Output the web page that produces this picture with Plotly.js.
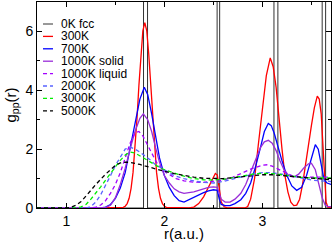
<!DOCTYPE html>
<html>
<head>
<meta charset="utf-8">
<script src="https://cdn.plot.ly/plotly-3.0.1.min.js"></script>
<style>html,body{margin:0;padding:0;background:#fff;}#chart{width:333px;height:242px;}</style>
</head>
<body>
<div id="chart"></div>
<script>
// ---- data ----
var seriesNames = ["0K fcc","300K","700K","1000K solid","1000K liquid","2000K","3000K","5000K"];

var fccR = [0.7,1.787,1.787,1.828,1.828,2.538,2.538,2.564,2.564,3.118,3.118,3.158,3.158,3.61,3.61,3.645,3.645,3.7];
var fccG = [0,0,60,60,0,0,60,60,0,0,60,60,0,0,60,60,0,0];

var r300 = [0.7,1.56,1.58,1.60,1.62,1.64,1.66,1.68,1.70,1.72,1.74,1.76,1.78,1.80,1.82,1.84,1.86,1.88,1.90,1.92,1.94,1.96,1.98,2.00,2.02,2.25,2.30,2.35,2.40,2.45,2.49,2.52,2.54,2.56,2.58,2.61,2.65,2.82,2.85,2.88,2.92,2.96,3.00,3.04,3.08,3.11,3.14,3.17,3.20,3.23,3.26,3.29,3.32,3.35,3.38,3.41,3.44,3.47,3.50,3.53,3.56,3.58,3.60,3.62,3.635,3.65,3.67,3.7];
var g300 = [0,0.01,0.02,0.06,0.15,0.33,0.67,1.21,2.0,3.02,4.17,5.24,6.02,6.3,6.02,5.24,4.17,3.02,2.0,1.21,0.67,0.33,0.15,0.06,0.02,0,0.03,0.15,0.38,0.72,1.0,1.17,1.12,0.6,0.2,0.04,0,0,0.05,0.3,1.0,2.2,3.4,4.5,5.1,4.8,4.1,3.0,2.0,1.1,0.55,0.2,0.08,0.1,0.3,0.8,1.5,2.2,2.8,3.4,3.8,3.7,3.2,2.0,1.0,0.2,0.02,0];

var r700 = [0.7,1.35,1.40,1.45,1.50,1.55,1.60,1.65,1.70,1.75,1.795,1.83,1.87,1.91,1.95,2.00,2.05,2.10,2.15,2.20,2.25,2.30,2.35,2.40,2.45,2.50,2.54,2.56,2.58,2.62,2.67,2.72,2.78,2.83,2.88,2.93,2.98,3.02,3.06,3.09,3.12,3.16,3.20,3.25,3.30,3.35,3.40,3.45,3.50,3.54,3.57,3.60,3.63,3.66,3.70];
var g700 = [0,0,0.03,0.12,0.33,0.68,1.2,2.0,2.9,3.7,4.1,3.85,3.2,2.4,1.7,1.1,0.7,0.42,0.25,0.2,0.28,0.36,0.45,0.52,0.58,0.62,0.6,0.3,0.12,0.08,0.08,0.15,0.28,0.5,0.85,1.4,2.05,2.6,2.87,2.8,2.55,2.05,1.6,1.1,0.75,0.6,0.7,1.1,1.7,2.15,2.0,1.4,0.95,0.85,0.8];

var r1000s = [0.7,1.40,1.45,1.50,1.55,1.60,1.65,1.70,1.75,1.785,1.83,1.87,1.91,1.95,2.00,2.05,2.10,2.15,2.20,2.25,2.30,2.35,2.40,2.45,2.50,2.54,2.56,2.58,2.62,2.67,2.72,2.78,2.83,2.88,2.93,2.98,3.02,3.06,3.10,3.14,3.18,3.22,3.27,3.32,3.37,3.42,3.47,3.50,3.54,3.58,3.61,3.64,3.67,3.70];
var g1000s = [0,0.02,0.09,0.35,0.8,1.35,2.0,2.6,3.05,3.2,3.0,2.6,2.05,1.55,1.1,0.85,0.65,0.55,0.5,0.52,0.55,0.6,0.65,0.7,0.72,0.7,0.5,0.3,0.2,0.2,0.3,0.5,0.8,1.2,1.65,2.05,2.25,2.3,2.2,1.95,1.6,1.3,1.1,1.05,1.15,1.35,1.5,1.52,1.3,0.8,0.35,0.1,0.05,0.05];

var r1000l = [0.7,1.25,1.30,1.35,1.40,1.45,1.50,1.55,1.60,1.65,1.70,1.74,1.78,1.82,1.87,1.92,1.97,2.02,2.07,2.12,2.20,2.30,2.40,2.50,2.60,2.70,2.80,2.90,3.00,3.05,3.10,3.20,3.30,3.40,3.50,3.60,3.70];
var g1000l = [0,0,0.03,0.1,0.25,0.5,0.8,1.2,1.7,2.2,2.55,2.6,2.45,2.2,1.85,1.55,1.35,1.2,1.1,1.0,0.92,0.88,0.87,0.9,0.95,1.05,1.2,1.35,1.45,1.47,1.42,1.25,1.1,1.05,1.05,1.05,1.05];

var r2000 = [0.7,1.20,1.25,1.30,1.35,1.40,1.45,1.50,1.55,1.60,1.65,1.70,1.75,1.80,1.85,1.90,1.95,2.00,2.05,2.10,2.20,2.30,2.40,2.50,2.60,2.70,2.80,2.90,3.00,3.10,3.20,3.30,3.40,3.50,3.60,3.70];
var g2000 = [0,0,0.05,0.2,0.45,0.75,1.1,1.45,1.75,2.0,2.07,2.0,1.9,1.78,1.65,1.5,1.4,1.3,1.2,1.1,1.0,0.92,0.87,0.85,0.9,0.98,1.08,1.15,1.2,1.2,1.15,1.08,1.0,0.95,0.92,0.9];

var r3000 = [0.7,1.10,1.15,1.20,1.25,1.30,1.35,1.40,1.45,1.50,1.55,1.60,1.65,1.70,1.75,1.80,1.85,1.90,1.95,2.00,2.10,2.20,2.30,2.40,2.50,2.60,2.70,2.80,2.90,3.00,3.10,3.20,3.30,3.40,3.50,3.60,3.70];
var g3000 = [0,0,0.04,0.12,0.3,0.5,0.72,0.95,1.18,1.42,1.62,1.8,1.9,1.87,1.77,1.66,1.56,1.47,1.38,1.3,1.18,1.08,1.0,0.96,0.95,0.97,1.03,1.1,1.15,1.18,1.17,1.13,1.08,1.04,1.02,1.02,1.02];

var r5000 = [0.7,1.00,1.05,1.10,1.15,1.20,1.25,1.30,1.35,1.40,1.45,1.50,1.55,1.60,1.65,1.70,1.75,1.80,1.85,1.90,2.00,2.10,2.20,2.30,2.40,2.50,2.60,2.70,2.80,2.90,3.00,3.10,3.20,3.30,3.40,3.50,3.60,3.70];
var g5000 = [0,0,0.03,0.1,0.22,0.4,0.6,0.8,0.98,1.15,1.3,1.45,1.53,1.56,1.55,1.52,1.48,1.43,1.38,1.33,1.25,1.17,1.1,1.05,1.01,1.0,1.0,1.03,1.07,1.1,1.13,1.13,1.1,1.07,1.03,1.0,0.97,0.96];

var xTickVals = [1,2,3];
var xTickText = ["1","2","3"];
var yTickVals = [0,2,4,6];
var yTickText = ["0","2","4","6"];

// ---- styles ----
var colors = ["#333333","#ff0000","#0000ff","#9a2ed8","#a300ff","#5a64ff","#00ee00","#000000"];
var dashes = ["solid","solid","solid","solid","4px,3px","4px,3px","4px,3px","4px,3px"];
var widths = [1,1.3,1.3,1.3,1.3,1.3,1.3,1.3];
var xs = [fccR,r300,r700,r1000s,r1000l,r2000,r3000,r5000];
var ys = [fccG,g300,g700,g1000s,g1000l,g2000,g3000,g5000];

var traces = [];
for (var i = 0; i < seriesNames.length; i++) {
  traces.push({
    x: xs[i], y: ys[i], name: seriesNames[i], type: "scatter", mode: "lines",
    line: {color: colors[i], width: widths[i], dash: dashes[i]},
    showlegend: false, hoverinfo: "skip"
  });
}

// manual compact legend (positions in pixels of the 333x242 page)
var ML = 37, MR = 2, MT = 2, MB = 34;
var PW = 333 - ML - MR, PH = 242 - MT - MB;
var rowTop = 24, rowStep = 12.4;
function px2x(p){ return (p - ML) / PW; }
function py2y(p){ return 1 - (p - MT) / PH; }
var annotations = [], shapes = [];
for (var k = 0; k < seriesNames.length; k++) {
  var yy = rowTop + k * rowStep;
  annotations.push({
    xref: "paper", yref: "paper", x: px2x(60), y: py2y(yy),
    xanchor: "left", yanchor: "middle", showarrow: false, borderpad: 0,
    text: seriesNames[k], font: {family: "Liberation Sans, Arial, sans-serif", size: 12, color: "#000"}
  });
  shapes.push({
    type: "line", xref: "paper", yref: "paper",
    x0: px2x(43), x1: px2x(53), y0: py2y(yy), y1: py2y(yy),
    line: {color: colors[k], width: widths[k], dash: dashes[k]}
  });
}

var axisCommon = {
  showline: true, linecolor: "#000", linewidth: 1, mirror: "ticks",
  ticks: "inside", ticklen: 5, tickwidth: 1, tickcolor: "#000",
  showgrid: false, zeroline: false, fixedrange: true,
  tickfont: {family: "Liberation Sans, Arial, sans-serif", size: 14, color: "#000"}
};

var layout = {
  width: 333, height: 242,
  margin: {l: ML, r: MR, t: MT, b: MB, pad: 0},
  paper_bgcolor: "#fff", plot_bgcolor: "#fff",
  showlegend: false,
  xaxis: Object.assign({}, axisCommon, {
    range: [0.7, 3.7], tickmode: "array", tickvals: xTickVals, ticktext: xTickText,
    minor: {dtick: 0.5, tick0: 0, ticklen: 3, ticks: "inside", tickcolor: "#000"},
    title: {text: "r(a.u.)", font: {family: "Liberation Sans, Arial, sans-serif", size: 15, color: "#000"}, standoff: 5}
  }),
  yaxis: Object.assign({}, axisCommon, {
    range: [0, 7], tickmode: "array", tickvals: yTickVals, ticktext: yTickText,
    minor: {dtick: 1, tick0: 0, ticklen: 3, ticks: "inside", tickcolor: "#000"},
    title: {text: "g<sub>pp</sub>(r)", font: {family: "Liberation Sans, Arial, sans-serif", size: 15, color: "#000"}, standoff: 5}
  }),
  annotations: annotations,
  shapes: shapes
};

Plotly.newPlot("chart", traces, layout, {staticPlot: true, displayModeBar: false});
</script>
</body>
</html>
